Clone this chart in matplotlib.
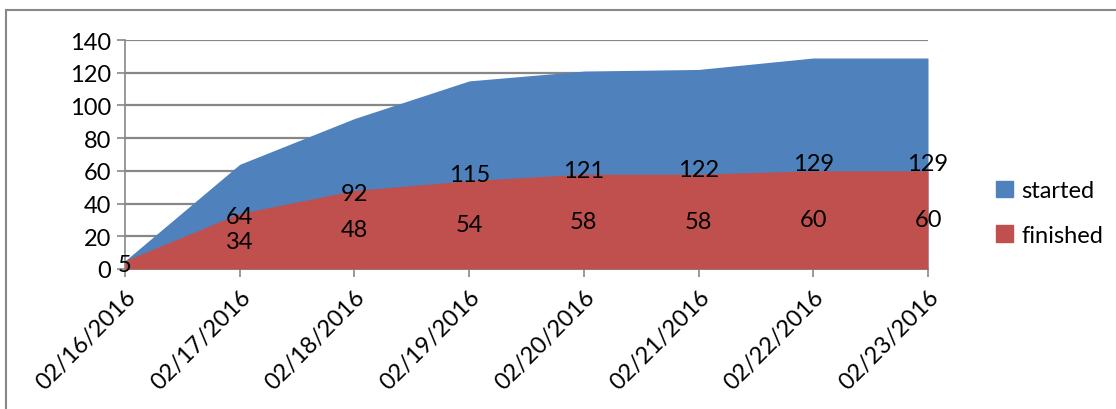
import numpy as np
import matplotlib
matplotlib.use("Agg")
import matplotlib.pyplot as plt
from matplotlib.patches import Patch, Rectangle

plt.rcParams['font.family'] = ['Lato', 'DejaVu Sans']

dates = ["02/16/2016", "02/17/2016", "02/18/2016", "02/19/2016",
         "02/20/2016", "02/21/2016", "02/22/2016", "02/23/2016"]
started = [5, 64, 92, 115, 121, 122, 129, 129]
finished = [5, 34, 48, 54, 58, 58, 60, 60]

blue = '#4F81BD'
red = '#C0504D'
grey = '#878787'
fs = 17

fig = plt.figure(figsize=(11.16, 4.10), dpi=100)
ax = fig.add_axes([125 / 1116, 1 - 270 / 410, (928 - 125) / 1116, (270 - 41) / 410])

x = np.arange(len(dates))
ax.fill_between(x, 0, started, color=blue, lw=0, zorder=2)
ax.fill_between(x, 0, finished, color=red, lw=0, zorder=3)

# data labels sit at half height of each area
for i in range(len(x)):
    ax.text(x[i], started[i] / 2, str(started[i]),
            ha='center', va='center', fontsize=fs, zorder=5)
    if i > 0:
        ax.text(x[i], finished[i] / 2, str(finished[i]),
                ha='center', va='center', fontsize=fs, zorder=5)

ax.set_xlim(0, len(x) - 1)
ax.set_ylim(0, 140)
ax.set_yticks(range(0, 141, 20))
ax.set_xticks(x)
ax.set_xticklabels(dates, rotation=45, ha='right', rotation_mode='anchor')
ax.grid(axis='y', color=grey, lw=1.6, zorder=1)
ax.set_axisbelow(True)

for s in ['top', 'right']:
    ax.spines[s].set_visible(False)
for s in ['left', 'bottom']:
    ax.spines[s].set_color(grey)
    ax.spines[s].set_linewidth(1.2)
ax.tick_params(axis='both', colors=grey, labelcolor='black', labelsize=fs,
               length=6, width=1.2)
ax.tick_params(axis='y', pad=4)
ax.tick_params(axis='x', pad=6)

handles = [Patch(color=blue, label='started'), Patch(color=red, label='finished')]
fig.legend(handles=handles, loc='center left', bbox_to_anchor=(975 / 1116, 1 - 214 / 410),
           frameon=False, fontsize=fs, handlelength=0.7, handleheight=0.7,
           handletextpad=0.35, labelspacing=1.0)

fig.patches.append(Rectangle((6 / 1116, -0.1), 1.2, 1 - 10.5 / 410 + 0.1,
                             transform=fig.transFigure, fill=False,
                             edgecolor=grey, lw=1.5))

fig.savefig('out.png', dpi=100)
